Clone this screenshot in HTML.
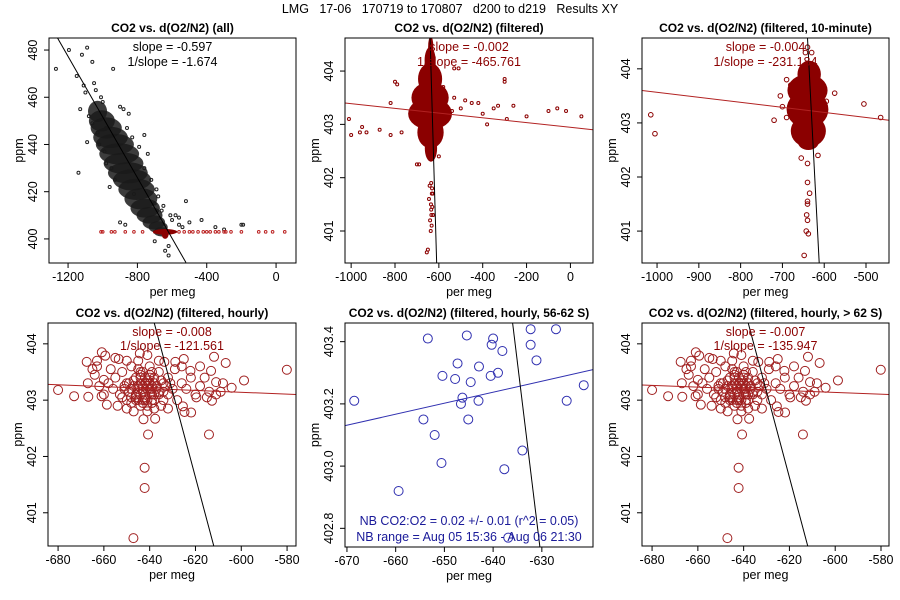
<!DOCTYPE html>
<html><head><meta charset="utf-8"><style>
body{margin:0;background:#fff;}
svg{display:block;font-family:"Liberation Sans",sans-serif;}
</style></head><body>
<svg id="chart" width="900" height="600" viewBox="0 0 900 600">
<rect width="900" height="600" fill="#fff"/>
<text x="450" y="13" text-anchor="middle" font-size="12.5" xml:space="preserve">LMG   17-06   170719 to 170807   d200 to d219   Results XY</text>
</svg>
<script>
// ---------- data ----------
const p1BlackX=[-1270,-1195,-1090,-1120,-1060,-940,-1150,-1110,-1100,-1050,-1130,-1000,-1080,-900,-880,-850,-1090,-1140,-1020,-980,-930,-960,-900,-870,-700,-520,-580,-560,-500,-430,-350,-300,-200,-190,-620,-640,-620,-700,-1040,-1010,-980,-760,-740,-820,-680,-660,-1060,-1030,-990,-950,-860,-830,-790,-760,-720,-690,-650,-610,-600,-560,-540];
const p1BlackY=[472,480,481,478,475,472,469,465,462,466,455,458,452,456,455,453,441,428,440,432,425,422,407,406,415,416,410,409,407,408,405,404,406,406,397,395,393,399,463,460,447,444,436,419,418,412,449,445,437,430,447,443,439,430,425,421,414,410,408,406,405];
const p1BandX=[-1030,-1005,-980,-955,-930,-905,-880,-855,-830,-805,-780,-755,-730,-705,-680,-660];
const p1BandY=[454,450,447,443,440,436,432,428,425,421,417,413,410,407,405,403];
const p1BandRx=[55,75,90,100,110,115,115,115,110,105,95,85,75,65,55,45];
const p1BandRy=[4.5,4.5,4.5,4.5,4.5,4.5,4.5,4.5,4.5,4.5,4.5,4,3.5,3,2.5,2];
const p1RedX=[-1010,-1000,-950,-930,-870,-820,-770,-700,-660,-600,-560,-530,-500,-480,-450,-420,-400,-380,-350,-330,-300,-290,-260,-200,-100,-60,-20,50];
const p1RedY=[403,403,403,403,403,403,403,403,403,403,403,403,403,403,403,403,403,403,403,403,403,403,403,403,403,403,403,403];
// panel 2
const p2X=[-1010,-1000,-950,-960,-930,-870,-820,-770,-800,-790,-820,-700,-690,-600,-530,-510,-540,-500,-480,-450,-420,-400,-380,-350,-330,-300,-300,-290,-260,-200,-100,-60,-20,50,-570,-580,-530,-635,-632,-636,-634,-633,-637,-631,-635,-655,-650,-640,-642,-638,-645,-628,-640,-630,-642,-626];
const p2Y=[403.1,402.8,402.95,402.85,402.85,402.9,402.8,402.85,403.8,403.75,403.4,402.25,402.25,402.4,404.05,404.05,403.25,403.3,403.45,403.4,403.4,403.2,403.0,403.3,403.35,403.85,403.8,403.1,403.35,403.15,403.25,403.3,403.25,403.15,403.1,403.7,403.5,401.9,401.7,401.5,401.3,401.1,401.0,401.8,401.4,400.6,400.65,404.4,404.3,404.45,401.6,401.7,401.2,401.45,401.85,401.3];
const p2BlobX=[-640,-640,-640,-640,-638,-636,-637];
const p2BlobY=[403.2,403.5,403.85,404.2,402.85,402.55,404.45];
const p2BlobRx=[100,85,55,25,60,28,12];
const p2BlobRy=[0.3,0.3,0.3,0.25,0.3,0.25,0.2];
// panel 3
const p3X=[-1015,-1005,-720,-700,-690,-705,-575,-505,-465,-655,-615,-640,-640,-635,-640,-640,-642,-640,-643,-638,-648,-645,-640,-630,-690,-600,-680,-595,-660,-620,-610,-670];
const p3Y=[403.15,402.8,403.05,403.3,403.8,403.5,403.55,403.35,403.1,402.35,402.4,402.25,401.9,401.7,401.55,401.5,401.3,401.2,401.0,400.95,400.55,404.3,404.4,404.3,403.1,403.6,403.7,403.4,402.8,402.7,403.05,402.9];
const p3BlobX=[-640,-640,-638,-636,-638];
const p3BlobY=[403.25,403.6,402.85,403.9,402.65];
const p3BlobRx=[50,48,42,28,25];
const p3BlobRy=[0.35,0.3,0.3,0.25,0.15];
// panels 4 & 6
const hourX=[-680,-673,-666.8,-667.5,-660.9,-659.4,-661,-658.7,-580.1,-598.8,-604.2,-606.8,-611.9,-613.2,-611,-611,-612.8,-614.1,-621.9,-624.8,-625.5,-619.6,-622.2,-625.1,-628.8,-633.6,-640.7,-642.2,-642.2,-647.1,-642.7,-637.6,-644.3,-653.5,-663,-660,
-655,-652,-650,-648,-646,-644,-642,-640,-638,-636,-634,-632,-630,-656,-653,-650,-648,-646,-644,-642,-640,-638,-636,-634,-632,-628,-654,-650,-647,-644,-641,-638,-635,-632,-645,-643,-641,-639,-647,-649,-637,-635,-651,-644,-640,-642,-646,-639,-643,-648,-658,-660,-662,-664,-657,-626,-624,-622,-620,-618,-616,-614,-629,-626,-665,-667,-663,-618,-615,-609,-608,-636,-645,-650,-655,-641,
-645,-643,-641,-639,-637,-644,-642,-640,-638,-646,-644,-642,-640,-638,-645,-643,-641,-639,-647,-645,-643,-641,-639,-637,-644,-642,-640,-646,-648,-636,-634,-633,-649,-651,-652,-631,-641,-643,-645,-639];
const hourY=[403.18,403.07,403.06,403.68,403.85,403.79,403.07,402.92,403.54,403.35,403.22,403.66,403.77,403.52,403.32,403.10,402.99,402.39,402.78,402.79,402.89,403.05,403.52,403.73,403.68,403.68,402.39,401.80,401.44,400.55,402.66,402.67,403.83,403.73,403.60,403.36,
403.4,403.5,403.3,403.6,403.4,403.5,403.3,403.6,403.4,403.5,403.3,403.4,403.2,403.2,403.1,403.0,403.2,403.0,403.1,403.0,403.2,403.0,403.1,403.0,403.1,403.0,402.9,402.85,402.8,402.9,402.8,402.85,402.9,402.85,403.25,403.15,403.35,403.1,403.35,403.15,403.25,403.35,403.25,403.45,403.45,403.05,403.1,402.95,402.95,402.95,403.3,403.1,403.25,403.45,403.55,403.3,403.2,403.4,403.1,403.25,403.4,403.15,403.55,403.6,403.55,403.3,403.7,403.6,403.05,403.15,403.3,403.7,403.7,403.7,403.75,403.8,
403.2,403.2,403.2,403.2,403.2,403.3,403.3,403.3,403.3,403.1,403.1,403.1,403.1,403.1,403.0,403.0,403.0,403.0,403.25,403.25,403.25,403.25,403.25,403.25,403.4,403.4,403.4,403.05,403.05,403.15,403.15,403.25,403.3,403.2,403.05,403.3,402.9,403.5,403.55,403.5];
// panel 5
const p5X=[-668.5,-653.4,-645.4,-640.0,-640.3,-638.1,-632.3,-627.1,-632.3,-631.1,-647.3,-642.9,-650.4,-647.8,-644.6,-640.5,-639.0,-621.4,-646.3,-646.6,-643.0,-624.9,-654.3,-645.1,-652.0,-634.0,-650.6,-637.7,-659.4,-636.9];
const p5Y=[403.21,403.41,403.42,403.41,403.39,403.37,403.44,403.44,403.39,403.34,403.33,403.32,403.29,403.28,403.27,403.29,403.30,403.26,403.22,403.20,403.21,403.21,403.15,403.15,403.10,403.05,403.01,402.99,402.92,402.77];
// regression line endpoints
const lineBlack1=[-1260,485,-520,390];
const lineBlack2=[-640,404.62,-610,400.40];
const lineRed2=[-1028,403.4,103,402.9];
const lineBlack3=[-640,404.57,-612,400.41];
const lineRed3=[-1036,403.6,-445,403.05];
const lineBlack4=[-638,404.37,-612,400.41];
const lineRed4=[-684.4,403.28,-576,403.1];
const lineBlack5=[-636,403.46,-630.4,402.74];
const lineBlue5=[-670.4,403.13,-619.5,403.31];
const lineBlack6=[-638,404.37,-612,400.41];
const lineRed6=[-684.4,403.27,-576.5,403.1];
// ticks
const ticksX1=[-1200,-800,-400,0], ticksY1=[400,420,440,460,480];
const ticksX2=[-1000,-800,-600,-400,-200,0], ticksY2=[401,402,403,404];
const ticksX3=[-1000,-900,-800,-700,-600,-500], ticksY3=[401,402,403,404];
const ticksX4=[-680,-660,-640,-620,-600,-580], ticksY4=[401,402,403,404];
const ticksX5=[-670,-660,-650,-640,-630], ticksY5=["402.8","403.0","403.2","403.4"];

// ---------- drawing ----------
const NS="http://www.w3.org/2000/svg";
const svg=document.getElementById('chart');
function mk(tag,attrs,parent,name){
  const e=document.createElementNS(NS,tag);
  for(const k in attrs)e.setAttribute(k,attrs[k]);
  
  
  (parent||svg).appendChild(e);return e;
}
const RED="#8b0000", LRED="#b22222", BLUE="#3030b0";
function panel(cfg){
  const g=mk('g',{},svg,cfg.name);
  const sx=v=>cfg.L+(v-cfg.x0)/(cfg.x1-cfg.x0)*(cfg.R-cfg.L);
  const sy=v=>cfg.B-(v-cfg.y0)/(cfg.y1-cfg.y0)*(cfg.B-cfg.T);
  const cx=(cfg.L+cfg.R)/2;
  const t=mk('text',{x:cx,y:cfg.T-6,'text-anchor':'middle','font-size':'12','font-weight':'bold'},g,'panel-title');t.textContent=cfg.title;
  const clip=mk('clipPath',{id:'c'+cfg.id},g,'plot-clip');
  mk('rect',{x:cfg.L,y:cfg.T,width:cfg.R-cfg.L,height:cfg.B-cfg.T},clip,'clip-rect');
  const pg=mk('g',{'clip-path':'url(#c'+cfg.id+')'},g,'plot-area');
  cfg.ticksX.forEach(v=>{const x=sx(+v);
    mk('line',{x1:x,x2:x,y1:cfg.B,y2:cfg.B+5,stroke:'#000'},g,'x-tick');
    const tt=mk('text',{x:x,y:cfg.B+18,'text-anchor':'middle','font-size':'12.5'},g,'x-tick-label');tt.textContent=v;});
  cfg.ticksY.forEach(v=>{const y=sy(+v);
    mk('line',{x1:cfg.L-5,x2:cfg.L,y1:y,y2:y,stroke:'#000'},g,'y-tick');
    const tt=mk('text',{x:cfg.L-12,y:y,'text-anchor':'middle','font-size':'12.5',transform:`rotate(-90 ${cfg.L-12} ${y})`},g,'y-tick-label');tt.textContent=v;});
  const xl=mk('text',{x:cx,y:cfg.B+33,'text-anchor':'middle','font-size':'12.5'},g,'x-axis-title');xl.textContent='per meg';
  const yx=cfg.L-26,yy=(cfg.T+cfg.B)/2;
  const yl=mk('text',{x:yx,y:yy,'text-anchor':'middle','font-size':'12.5',transform:`rotate(-90 ${yx} ${yy})`},g,'y-axis-title');yl.textContent='ppm';
  (cfg.series||[]).forEach(s=>{for(let i=0;i<s.X.length;i++){
    mk('circle',{cx:sx(s.X[i]),cy:sy(+s.Y[i]),r:s.r,fill:'none',stroke:s.color,'stroke-width':s.w||1},pg,'data-point');}});
  (cfg.blobs||[]).forEach(b=>{for(let i=0;i<b.X.length;i++){
    mk('ellipse',{cx:sx(b.X[i]),cy:sy(b.Y[i]),rx:Math.abs(sx(b.X[i]+b.RX[i])-sx(b.X[i])),ry:Math.abs(sy(b.Y[i]+b.RY[i])-sy(b.Y[i])),fill:b.color,'fill-opacity':b.op},pg,'dense-cluster');}});
  (cfg.lines||[]).forEach(l=>{
    mk('line',{x1:sx(l.d[0]),y1:sy(l.d[1]),x2:sx(l.d[2]),y2:sy(l.d[3]),stroke:l.color,'stroke-width':1},pg,'regression-line');});
  mk('rect',{x:cfg.L,y:cfg.T,width:cfg.R-cfg.L,height:cfg.B-cfg.T,fill:'none',stroke:'#000'},g,'plot-frame');
  (cfg.notes||[]).forEach(n=>{const e=mk('text',{x:cx,y:n.y,'text-anchor':'middle','font-size':'12.5',fill:n.color},g,'stat-label');e.textContent=n.t;});
}
panel({id:1,name:'panel-all',title:'CO2 vs. d(O2/N2) (all)',L:49,R:296,T:38,B:263,x0:-1310,x1:115,y0:389.8,y1:485.1,ticksX:ticksX1,ticksY:ticksY1,
  blobs:[{X:p1BandX,Y:p1BandY,RX:p1BandRx,RY:p1BandRy,color:'#1a1a1a',op:0.85},{X:[-640,-640],Y:[403,402],RX:[70,20],RY:[1.2,2],color:RED,op:1}],
  series:[{X:p1BlackX,Y:p1BlackY,r:1.5,color:'#222'},{X:p1RedX,Y:p1RedY,r:1.3,color:'#b22'}],
  lines:[{d:lineBlack1,color:'#000'}],
  notes:[{t:'slope = -0.597',y:51,color:'#000'},{t:'1/slope = -1.674',y:66,color:'#000'}]});
panel({id:2,name:'panel-filtered',title:'CO2 vs. d(O2/N2) (filtered)',L:345,R:593,T:38,B:263,x0:-1028,x1:103,y0:400.40,y1:404.62,ticksX:ticksX2,ticksY:ticksY2,
  blobs:[{X:p2BlobX,Y:p2BlobY,RX:p2BlobRx,RY:p2BlobRy,color:RED,op:1}],
  series:[{X:p2X,Y:p2Y,r:1.5,color:RED}],
  lines:[{d:lineRed2,color:LRED},{d:lineBlack2,color:'#000'}],
  notes:[{t:'slope = -0.002',y:51,color:RED},{t:'1/slope = -465.761',y:66,color:RED}]});
panel({id:3,name:'panel-10-minute',title:'CO2 vs. d(O2/N2) (filtered, 10-minute)',L:642,R:889,T:38,B:263,x0:-1036,x1:-445,y0:400.41,y1:404.57,ticksX:ticksX3,ticksY:ticksY3,
  blobs:[{X:p3BlobX,Y:p3BlobY,RX:p3BlobRx,RY:p3BlobRy,color:RED,op:1}],
  series:[{X:p3X,Y:p3Y,r:2.3,color:RED}],
  lines:[{d:lineRed3,color:LRED},{d:lineBlack3,color:'#000'}],
  notes:[{t:'slope = -0.004',y:51,color:RED},{t:'1/slope = -231.184',y:66,color:RED}]});
panel({id:4,name:'panel-hourly',title:'CO2 vs. d(O2/N2) (filtered, hourly)',L:48,R:296,T:323,B:546,x0:-684.4,x1:-576.1,y0:400.41,y1:404.37,ticksX:ticksX4,ticksY:ticksY4,
  series:[{X:hourX,Y:hourY,r:4.5,color:'#a02020'}],
  lines:[{d:lineRed4,color:LRED},{d:lineBlack4,color:'#000'}],
  notes:[{t:'slope = -0.008',y:336,color:RED},{t:'1/slope = -121.561',y:350,color:RED}]});
panel({id:5,name:'panel-hourly-56-62S',title:'CO2 vs. d(O2/N2) (filtered, hourly, 56-62 S)',L:345,R:593,T:323,B:547,x0:-670.4,x1:-619.5,y0:402.74,y1:403.46,ticksX:ticksX5,ticksY:ticksY5,
  series:[{X:p5X,Y:p5Y,r:4.5,color:BLUE}],
  lines:[{d:lineBlue5,color:BLUE},{d:lineBlack5,color:'#000'}],
  notes:[{t:'NB CO2:O2 = 0.02 +/- 0.01 (r^2 = 0.05)',y:525,color:'#1a1a99'},{t:'NB range = Aug 05 15:36 - Aug 06 21:30',y:541,color:'#1a1a99'}]});
panel({id:6,name:'panel-hourly-over-62S',title:'CO2 vs. d(O2/N2) (filtered, hourly, > 62 S)',L:642,R:889,T:323,B:546,x0:-684.4,x1:-576.5,y0:400.41,y1:404.37,ticksX:ticksX4,ticksY:ticksY4,
  series:[{X:hourX,Y:hourY,r:4.5,color:'#a02020'}],
  lines:[{d:lineRed6,color:LRED},{d:lineBlack6,color:'#000'}],
  notes:[{t:'slope = -0.007',y:336,color:RED},{t:'1/slope = -135.947',y:350,color:RED}]});
</script>
</body></html>
